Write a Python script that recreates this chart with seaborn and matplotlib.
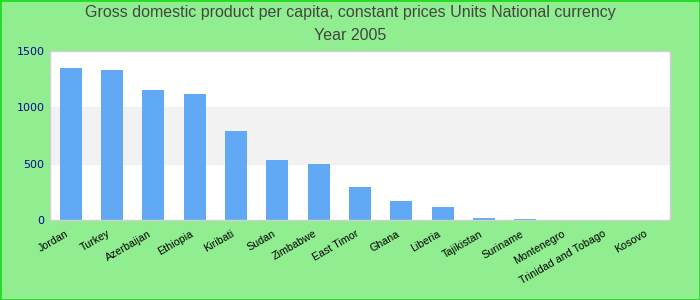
import matplotlib
matplotlib.use("Agg")
import matplotlib.pyplot as plt
import matplotlib.transforms as mtransforms
import seaborn as sns
import pandas as pd
from matplotlib.patches import Rectangle

countries = ["Jordan", "Turkey", "Azerbaijan", "Ethiopia", "Kiribati", "Sudan",
             "Zimbabwe", "East Timor", "Ghana", "Liberia", "Tajikistan", "Suriname",
             "Montenegro", "Trinidad and Tobago", "Kosovo"]
values = [1349, 1331, 1153, 1118, 790, 532, 497, 293, 169, 115, 18, 9, 0, 0, 0]
yticks = [0, 500, 1000, 1500]

df = pd.DataFrame({"country": countries, "value": values})

sns.set_theme(style="white")
fig = plt.figure(figsize=(7, 3), dpi=100, facecolor="#90EE90")
ax = fig.add_axes([50/700, 80/300, 620/700, 169/300])
ax.set_facecolor("white")

ax.axhspan(500, 1000, color="#f2f2f2", zorder=0)
sns.barplot(data=df, x="country", y="value", color="#62a9f5", width=0.53,
            saturation=1, linewidth=0, ax=ax, zorder=2)

ax.set_ylim(0, 1500)
ax.set_xlim(-0.5, len(countries) - 0.5)
ax.set_yticks(yticks)
ax.set_yticklabels([str(t) for t in yticks], color="#0a0a90", fontsize=8,
                   family="DejaVu Sans")
ax.set_xticks(range(len(countries)))
ax.set_xticklabels(countries, rotation=30, ha="right", rotation_mode="anchor",
                   fontsize=7.7, color="black", family="Liberation Sans")
ax.tick_params(axis="both", length=0, pad=4)
offset = mtransforms.ScaledTranslation(-5/100, -3/100, fig.dpi_scale_trans)
for lbl in ax.get_xticklabels():
    lbl.set_transform(lbl.get_transform() + offset)
ax.set_xlabel("")
ax.set_ylabel("")
for s in ax.spines.values():
    s.set_color("#d0d0d0")
    s.set_linewidth(1)

fig.text(0.5, 1 - 13/300, "Gross domestic product per capita, constant prices Units National currency",
         ha="center", va="center", fontsize=11.5, color="#444444",
         family=["Liberation Sans Narrow", "Liberation Sans"])
fig.text(0.5, 1 - 36/300, "Year 2005", ha="center", va="center", fontsize=11.5,
         color="#444444", family=["Liberation Sans Narrow", "Liberation Sans"])

fig.patches.append(Rectangle((0, 0), 1, 1, transform=fig.transFigure, fill=False,
                             edgecolor="#22dd22", linewidth=2, zorder=10))

fig.savefig("out.png", dpi=100, facecolor=fig.get_facecolor())
